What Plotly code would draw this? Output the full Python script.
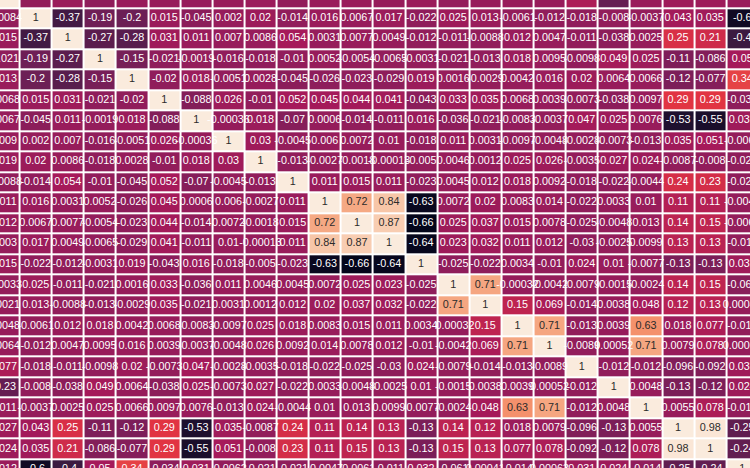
import plotly.graph_objects as go
import numpy as np

# Upper-triangle correlation readings: row i holds columns i+1 .. 23
r0 = [-0.0084, 0.015, -0.021, 0.013, 0.0068, 0.0067, 0.009, 0.019, -0.0088, 0.011, 0.012, 0.003, 0.015, -0.0033, 0.0021, 0.0048, 0.0064, 0.077, -0.23, 0.011, 0.027, 0.024, 0.012]
r1 = [-0.37, -0.19, -0.2, 0.015, -0.045, 0.002, 0.02, -0.014, 0.016, 0.0067, 0.017, -0.022, 0.025, 0.013, -0.0061, -0.012, -0.018, -0.008, -0.0037, 0.043, 0.035, -0.6]
r2 = [-0.27, -0.28, 0.031, 0.011, 0.007, 0.0086, 0.054, 0.0031, 0.0077, 0.0049, -0.012, -0.011, -0.0088, 0.012, 0.0047, -0.011, -0.038, 0.0025, 0.25, 0.21, -0.4]
r3 = [-0.15, -0.021, -0.0019, -0.016, -0.018, -0.01, 0.0052, -0.0054, -0.0065, -0.0031, -0.021, -0.013, 0.018, 0.0095, -0.0098, 0.049, 0.025, -0.11, -0.086, 0.05]
r4 = [-0.02, 0.018, -0.0051, 0.0028, -0.045, -0.026, -0.023, -0.029, 0.019, 0.0016, -0.0029, 0.0042, 0.016, 0.02, 0.0064, 0.0066, -0.12, -0.077, 0.34]
r5 = [-0.088, 0.026, -0.01, 0.052, 0.045, 0.044, 0.041, -0.043, 0.033, 0.035, 0.0068, 0.0039, -0.0073, -0.038, 0.0097, 0.29, 0.29, -0.034]
r6 = [-0.00036, 0.018, -0.07, 0.0006, -0.014, -0.011, 0.016, -0.036, -0.021, -0.0083, -0.0037, 0.047, 0.025, 0.0076, -0.53, -0.55, 0.031]
r7 = [0.03, -0.0045, 0.006, 0.0072, 0.01, -0.018, 0.011, 0.0031, -0.0097, -0.0048, -0.0028, -0.0073, -0.013, 0.035, 0.051, -0.0062]
r8 = [-0.013, -0.0027, -0.0018, -0.00013, -0.005, 0.0046, 0.0012, 0.025, 0.026, -0.0035, 0.027, 0.024, -0.0087, -0.008, -0.021]
r9 = [0.011, 0.015, 0.011, -0.023, 0.0045, 0.012, 0.018, 0.0092, -0.018, -0.022, -0.0044, 0.24, 0.23, -0.021]
r10 = [0.72, 0.84, -0.63, 0.0072, 0.02, 0.0083, 0.014, -0.022, 0.0033, 0.01, 0.11, 0.11, -0.0047]
r11 = [0.87, -0.66, 0.025, 0.037, 0.015, 0.0078, -0.025, -0.0048, 0.013, 0.14, 0.15, -0.0061]
r12 = [-0.64, 0.023, 0.032, 0.011, 0.012, -0.03, -0.0025, 0.0099, 0.13, 0.13, -0.011]
r13 = [-0.025, -0.022, 0.0034, -0.01, 0.024, 0.01, -0.0077, -0.13, -0.13, 0.032]
r14 = [0.71, -0.00032, -0.0042, -0.0079, -0.0015, -0.0024, 0.14, 0.15, -0.061]
r15 = [0.15, 0.069, -0.014, 0.0038, 0.048, 0.12, 0.13, 0.00041]
r16 = [0.71, -0.013, 0.0039, 0.63, 0.018, 0.077, -0.014]
r17 = [-0.0089, 0.00052, 0.71, 0.0079, 0.078, 0.00063]
r18 = [-0.012, -0.012, -0.096, -0.092, 0.031]
r19 = [0.0048, -0.13, -0.12, 0.024]
r20 = [0.0055, 0.078, -0.014]
r21 = [0.98, -0.25]
r22 = [-0.24]

upper_rows = [r0, r1, r2, r3, r4, r5, r6, r7, r8, r9, r10, r11, r12, r13,
              r14, r15, r16, r17, r18, r19, r20, r21, r22]

n = len(upper_rows) + 1
M = np.eye(n)
for i, row in enumerate(upper_rows):
    for k, v in enumerate(row):
        j = i + 1 + k
        M[i, j] = v
        M[j, i] = v

idx = list(range(n))

# seaborn "rocket"
rocket = [
    [0.0, "#03051a"], [0.143, "#35193e"], [0.286, "#701f57"], [0.39, "#911d5b"],
    [0.429, "#a61a5a"], [0.571, "#e13342"], [0.714, "#f37651"], [0.857, "#f6b48f"],
    [1.0, "#faebdd"],
]

zmin = float(M.min())
zmax = float(M.max())

fig = go.Figure()
fig.add_trace(go.Heatmap(
    z=M, x=idx, y=idx, colorscale=rocket, zmin=zmin, zmax=zmax,
    xgap=2, ygap=2, showscale=False, hoverinfo="skip",
))

xs, ys, txt, cols = [], [], [], []
for i in range(n):
    for j in range(n):
        v = M[i, j]
        xs.append(j)
        ys.append(i)
        txt.append(format(v, ".2g"))
        cols.append("#2b2b2b" if v > 0.5 else "#ffffff")

fig.add_trace(go.Scatter(
    x=xs, y=ys, mode="text", text=txt,
    textfont=dict(family="Liberation Sans, Arial, sans-serif", size=10.8, color=cols),
    textposition="middle center", hoverinfo="skip", showlegend=False,
))

fig.update_layout(
    width=750, height=468,
    margin=dict(l=0, r=0, t=0, b=0),
    paper_bgcolor="white", plot_bgcolor="white",
    xaxis=dict(range=[-0.1115, 23.239], visible=False, showgrid=False, zeroline=False),
    yaxis=dict(range=[22.927, 0.120], visible=False, showgrid=False, zeroline=False),
    showlegend=False,
)

fig.write_html("out.html", config={"displayModeBar": False},
               post_script="document.body.style.margin='0';document.body.style.overflow='hidden';")
